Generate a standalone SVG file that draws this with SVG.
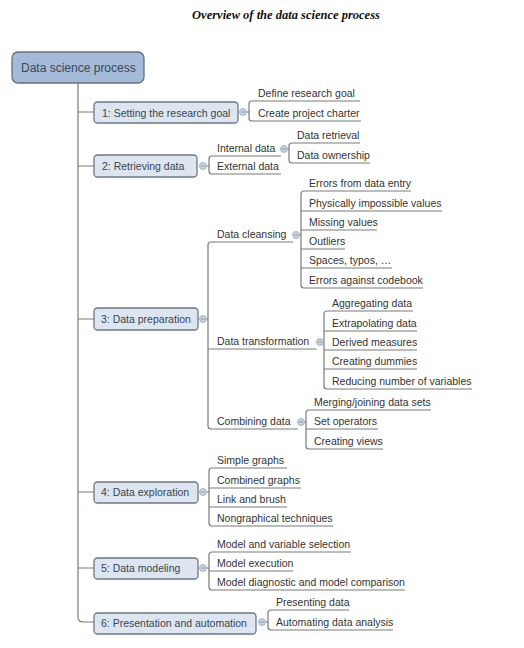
<svg xmlns="http://www.w3.org/2000/svg" width="524" height="648" viewBox="0 0 524 648">
  <style>
    .title { font-family: "Liberation Serif", "Times New Roman", serif; font-size: 12.5px; font-weight: bold; font-style: italic; fill: #111; }
    .root rect { fill: #a3bad8; stroke: #66707c; stroke-width: 1.3; }
    .root text { font-family: "Liberation Sans", Arial, sans-serif; font-size: 12px; fill: #3a4756; }
    .topic rect { fill: #dde6f0; stroke: #6e7885; stroke-width: 1.3; }
    .topic text { font-family: "Liberation Sans", Arial, sans-serif; font-size: 10.5px; fill: #3a4450; }
    .leaf { font-family: "Liberation Sans", Arial, sans-serif; font-size: 10.5px; fill: #333; }
    .conn path { fill: none; stroke: #7a7a7a; stroke-width: 1.2; }
  </style>
  <defs>
    <!-- collapse toggle: small disc with a minus sign -->
    <g id="minus">
      <circle r="3.5" fill="#c8d4e0" stroke="#9aa6b2" stroke-width="0.8"/>
      <path d="M-2,0 H2" stroke="#7d8a96" stroke-width="0.8"/>
    </g>
  </defs>

  <rect width="524" height="648" fill="#fff"/>
  <text class="title" x="286" y="19" text-anchor="middle">Overview of the data science process</text>

  <!-- connectors -->
  <g id="connectors" class="conn">
    <!-- trunk from root to the six stages -->
    <path d="M78,83 V617 Q78,622 83,622 H94"/>
    <path d="M78,112 H94 M78,166 H94 M78,319 H94 M78,492 H94 M78,568 H94"/>

    <!-- stage 1 -->
    <path d="M246.5,112 H249 M360,101 H252 Q249,101 249,104 V118 Q249,121 252,121 H361"/>
    <!-- stage 2 -->
    <path d="M206.5,166 H209 M281,156 H212 Q209,156 209,159 V171 Q209,174 212,174 H281"/>
    <path d="M287.5,149 H289 M360,143 H292 Q289,143 289,146 V160 Q289,163 292,163 H370"/>
    <!-- stage 3 -->
    <path d="M206.5,319 H208 M293,242 H211 Q208,242 208,245 V426 Q208,429 211,429 H298 M208,349 H316.5"/>
    <path d="M299.5,235 H301 M411,191 H304 Q301,191 301,194 V285 Q301,288 304,288 H423 M301,211 H442 M301,230 H377 M301,249 H345 M301,268 H392"/>
    <path d="M323.5,342 H324 M413,311 H327 Q324,311 324,314 V386 Q324,389 327,389 H472 M324,331 H417 M324,350 H417 M324,369 H417"/>
    <path d="M304.5,422 H306 M431,410 H309 Q306,410 306,413 V446 Q306,449 309,449 H383 M306,429 H378"/>
    <!-- stage 4 -->
    <path d="M206.5,492 H209 M287,468 H212 Q209,468 209,471 V523 Q209,526 212,526 H333 M209,488 H301 M209,507 H287"/>
    <!-- stage 5 -->
    <path d="M206.5,568 H209 M351,552 H212 Q209,552 209,555 V587 Q209,590 212,590 H405 M209,571 H293"/>
    <!-- stage 6 -->
    <path d="M265.5,622 H268 M349,610 H271 Q268,610 268,613 V627 Q268,630 271,630 H393"/>
  </g>

  <!-- collapse toggles -->
  <g id="toggles">
    <use href="#minus" x="243" y="112"/>
    <use href="#minus" x="203" y="166"/>
    <use href="#minus" x="284" y="149"/>
    <use href="#minus" x="203" y="319"/>
    <use href="#minus" x="296" y="235"/>
    <use href="#minus" x="320" y="342"/>
    <use href="#minus" x="301" y="422"/>
    <use href="#minus" x="203" y="492"/>
    <use href="#minus" x="203" y="568"/>
    <use href="#minus" x="262" y="622"/>
  </g>

  <!-- root -->
  <g id="root" class="root">
    <rect x="12" y="52" width="132" height="31" rx="6"/>
    <text x="21" y="72">Data science process</text>
  </g>

  <!-- stages -->
  <g id="stage1" class="topic">
    <rect x="94" y="102" width="144" height="21" rx="3.5"/>
    <text x="102" y="116.5">1: Setting the research goal</text>
  </g>
  <g id="stage2" class="topic">
    <rect x="94" y="155" width="103" height="22" rx="3.5"/>
    <text x="102" y="169.5">2: Retrieving data</text>
  </g>
  <g id="stage3" class="topic">
    <rect x="94" y="308" width="104" height="22" rx="3.5"/>
    <text x="101" y="322.5">3: Data preparation</text>
  </g>
  <g id="stage4" class="topic">
    <rect x="94" y="482" width="104" height="21" rx="3.5"/>
    <text x="101" y="496">4: Data exploration</text>
  </g>
  <g id="stage5" class="topic">
    <rect x="94" y="558" width="104" height="21" rx="3.5"/>
    <text x="101" y="572">5: Data modeling</text>
  </g>
  <g id="stage6" class="topic">
    <rect x="94" y="613" width="162" height="21" rx="3.5"/>
    <text x="101" y="627">6: Presentation and automation</text>
  </g>

  <!-- stage 1 items -->
  <g id="goal-items" class="leaf">
    <text x="258" y="97">Define research goal</text>
    <text x="258" y="117">Create project charter</text>
  </g>

  <!-- stage 2 items -->
  <g id="retrieval-items" class="leaf">
    <text x="217" y="152">Internal data</text>
    <text x="217" y="170">External data</text>
    <text x="297" y="139">Data retrieval</text>
    <text x="297" y="159">Data ownership</text>
  </g>

  <!-- stage 3 items -->
  <g id="preparation-items" class="leaf">
    <text x="217" y="238">Data cleansing</text>
    <text x="309" y="187">Errors from data entry</text>
    <text x="309" y="207">Physically impossible values</text>
    <text x="309" y="226">Missing values</text>
    <text x="309" y="245">Outliers</text>
    <text x="309" y="264">Spaces, typos, …</text>
    <text x="309" y="284">Errors against codebook</text>

    <text x="217" y="345">Data transformation</text>
    <text x="332" y="307">Aggregating data</text>
    <text x="332" y="327">Extrapolating data</text>
    <text x="332" y="346">Derived measures</text>
    <text x="332" y="365">Creating dummies</text>
    <text x="332" y="385">Reducing number of variables</text>

    <text x="217" y="425">Combining data</text>
    <text x="314" y="406">Merging/joining data sets</text>
    <text x="314" y="425">Set operators</text>
    <text x="314" y="445">Creating views</text>
  </g>

  <!-- stage 4 items -->
  <g id="exploration-items" class="leaf">
    <text x="217" y="464">Simple graphs</text>
    <text x="217" y="484">Combined graphs</text>
    <text x="217" y="503">Link and brush</text>
    <text x="217" y="522">Nongraphical techniques</text>
  </g>

  <!-- stage 5 items -->
  <g id="modeling-items" class="leaf">
    <text x="217" y="548">Model and variable selection</text>
    <text x="217" y="567">Model execution</text>
    <text x="217" y="586">Model diagnostic and model comparison</text>
  </g>

  <!-- stage 6 items -->
  <g id="presentation-items" class="leaf">
    <text x="276" y="606">Presenting data</text>
    <text x="276" y="626">Automating data analysis</text>
  </g>
</svg>
